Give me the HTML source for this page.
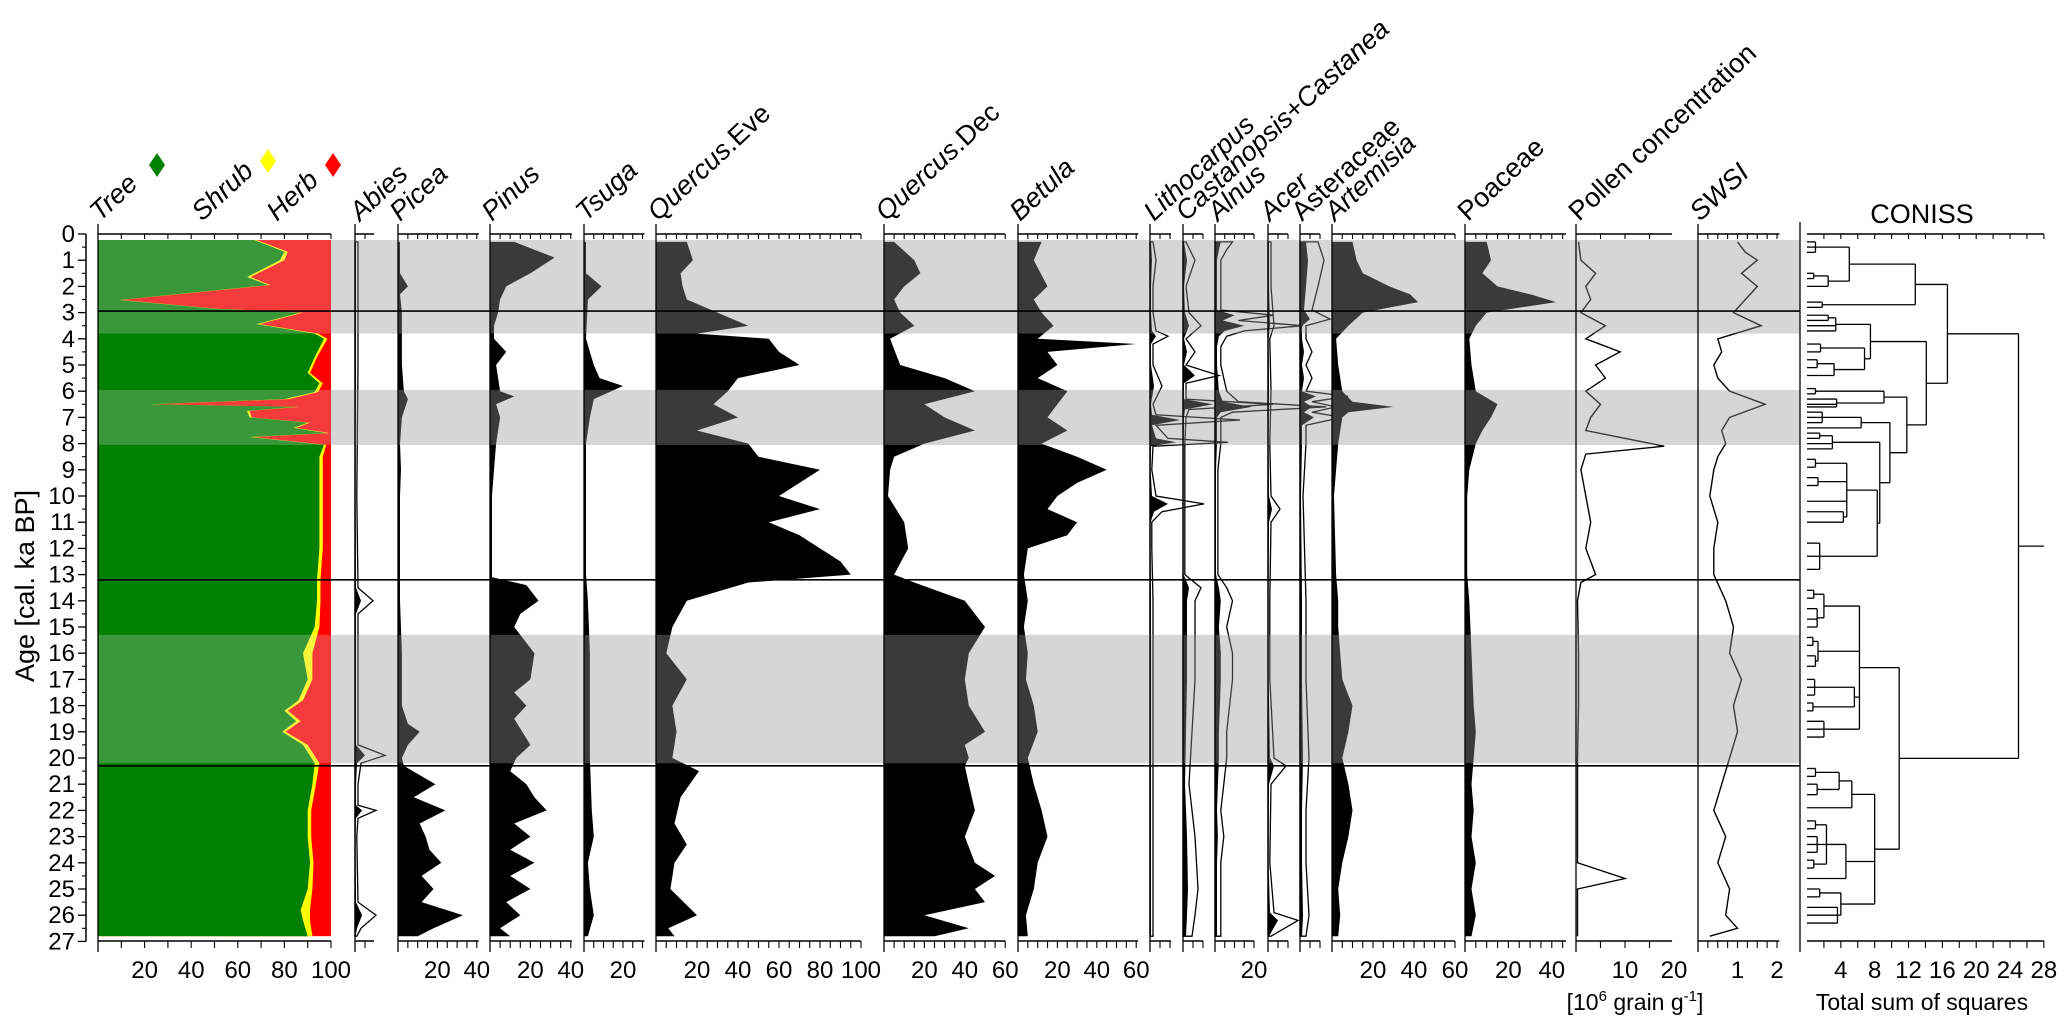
<!DOCTYPE html>
<html><head><meta charset="utf-8"><title>Pollen diagram</title>
<style>
html,body{margin:0;padding:0;background:#fff;}
svg{display:block;font-family:"Liberation Sans",Arial,sans-serif;}
</style></head>
<body>
<svg id="chart" xmlns="http://www.w3.org/2000/svg" width="2067" height="1020" viewBox="0 0 2067 1020"></svg>
<script>
// ---------------- DATA ----------------
const tshAge = [0.23,0.68,1.0,1.64,1.95,2.52,2.85,3.0,3.44,3.8,4.0,4.7,5.3,5.7,6.03,6.3,6.5,6.6,6.75,7.0,7.2,7.4,7.6,7.75,8.05,8.5,10,12,13.2,14,15,16,17,17.8,18.2,18.6,19.0,19.5,20.2,21,22,23,24,25,25.8,26.2,26.8];
const treePct = [67,80,78,64,73,9,50,87,68,93,97,93,90,95,93,80,22,85,64,65,90,84,98,65,97,95,95,95,94,94,93,88,90,86,80,85,79,88,93,92,90,90,91,90,87,88,90];
const shrubPct = [1,1.5,2,1.5,1,1,1,1,1.5,1.5,1.5,1,1,1.5,1.5,2,1.5,1.5,1,1,1,1,1.5,1.5,1,1.5,1.5,1.5,1.5,1.5,2,4,2,2,1.5,2,1.5,2,2,1.5,1.5,1.5,1.5,2,4,3,2];

const abiesAge = [0.3,5,10,13.5,14,14.5,17,19.5,19.9,20.2,21,21.8,22,22.3,23,25.5,26,26.5,26.8];
const abiesVal = [0.5,0.5,0.3,0.5,3,0.5,0.5,0.5,5,1,0.5,0.5,3.5,0.5,0.3,0.5,3.5,1,0.3];

const piceaAge = [0.3,1.5,2.0,2.3,3.0,4,5,6,6.3,7,8,9,10,12,13,14,16,18,18.7,19.0,19.5,20.0,20.3,21.0,21.5,22.0,22.5,23.0,23.5,24.0,24.5,25.0,25.5,26.0,26.5,26.8];
const piceaVal = [1,1,5,1,2,2,2,3,5,2,1,1.5,1,1,1,1,2,2,5,11,5,2,3,19,8,24,11,14,16,22,12,18,12,33,18,10];

const pinusAge = [0.3,0.6,0.9,1.5,2.0,2.5,3,3.5,4,4.5,5,6,6.2,6.5,7,8,9,10,12,13.1,13.4,14,14.5,15,16,17,17.5,18,18.5,19.5,20,20.5,21,21.5,22,22.5,23,23.5,24,24.5,25,25.5,26,26.5,26.8];
const pinusVal = [12,22,32,20,8,5,4,2,2,8,3,5,12,3,5,3,2,1,1,1,18,24,15,12,22,20,12,18,12,20,13,10,18,22,28,12,20,10,22,10,20,8,15,5,10];

const tsugaAge = [0.3,1.5,2,2.5,4,5,5.5,5.8,6.3,7,8,10,13,14,16,18,20,22,23,24,25,26,26.8];
const tsugaVal = [1,1,9,2,1,5,8,20,5,3,1,1,1,2,3,3,3,4,5,2,3,5,2];

const qeveAge = [0.3,1,1.5,2,2.5,3,3.5,3.8,4,4.5,5,5.5,6,6.5,7,7.5,8,8.5,9,9.5,10,10.5,11,11.5,12,12.5,13,13.3,14,15,16,17,18,19,20,20.5,21.5,22.5,23.3,24,25,26,26.5,26.8];
const qeveVal = [15,18,12,13,15,30,45,20,55,60,70,40,35,28,40,20,45,50,80,70,60,80,55,70,80,90,95,45,15,8,5,15,8,10,8,21,12,9,15,9,7,20,6,9];

const qdecAge = [0.3,1,1.5,2,2.5,3,3.5,4,5,5.5,6,6.5,7,7.5,8,8.5,9,10,11,12,13,13.3,14,15,16,17,18,19,19.5,20,20.3,21,22,23,24,24.5,25,25.5,26,26.5,26.8];
const qdecVal = [5,15,18,10,5,8,15,3,8,30,45,20,30,45,20,5,3,2,10,12,5,15,40,50,42,40,42,50,40,42,40,42,45,40,45,55,45,50,20,42,25];

const betulaAge = [0.3,1,2,2.5,3,3.5,4,4.2,4.5,5,5.5,6,6.5,7,7.5,8,8.5,9,9.5,10,10.5,11,11.5,12,13,14,15,16,17,18,19,20,21,22,23,24,25,26,26.8];
const betulaVal = [12,8,15,8,12,18,10,60,15,20,10,25,20,15,25,12,30,45,30,20,15,30,25,5,3,5,3,5,4,8,10,5,8,12,15,10,8,4,5];

const lithoAge = [0.3,1,2,3,3.7,3.9,4.2,5,5.8,6.5,6.9,7.1,7.3,7.8,7.95,8.1,9,10,10.3,10.6,11,12,14,16,18,20,22,24,26,26.8];
const lithoVal = [0.5,1,0.5,0.5,1,3,0.5,0.5,2,0.5,1,15,1,3,13,0.5,0.3,1,9,2,0.3,0.3,0.5,0.5,0.5,0.5,0.5,0.5,0.5,0.5];

const castAge = [0.3,1,2,3,3.5,4,4.5,5,5.4,5.7,6.3,6.5,6.7,7,8,10,13,13.5,14,15,17,19,21,23,25,26,26.8];
const castVal = [0.5,2,0.5,1,3,0.5,2,0.5,6,0.5,0.5,15,1,0.5,0.3,0.3,0.3,3,2,2,2,1.5,1,2,2.5,2,1.5];

const alnusAge = [0.3,0.6,1,2,2.9,3.1,3.3,3.5,3.7,3.9,4.3,5,6,6.4,6.6,6.8,7,8,9,10,11,12,13,13.5,14,15,16,17,18,19,20,21,22,23,24,25,26,26.8];
const alnusVal = [3,2,1,1,1,10,4,15,5,2,1,1,2,4,19,3,1,1,0.5,0.5,0.5,0.5,0.5,2,3,2,3,3,2.5,2,2,1.5,1,1.5,1,1,1,1];

const acerAge = [0.3,2,3.5,4,6,8,10,10.5,11,14,17,20,20.3,21,24,25.9,26.2,26.8];
const acerVal = [0.5,0.5,1,0.3,0.5,0.3,0.5,2,0.5,0.3,0.3,1,3,0.5,0.3,1,5,0.5];

const asterAge = [0.3,1,2,2.9,3.25,3.5,4,4.5,5,5.5,6,6.2,6.4,6.6,6.8,7,7.3,8,10,14,17,20,22,24,26,26.8];
const asterVal = [3,4,3,2,5,1,1,2,1,2,1,8,2,6,2,7,1,1,0.5,1,1,1.5,1,1,1.5,1];

const artemAge = [0.3,1,1.5,2,2.3,2.6,3,3.5,4,5,6,6.4,6.6,6.8,7,8,9,10,13,14,15,16,17,18,19,20,21,22,23,24,25,26,26.8];
const artemVal = [10,12,15,28,38,42,15,8,2,3,5,10,30,8,5,3,2,1,2,3,3,4,5,10,8,5,8,10,8,5,3,4,3];

const poacAge = [0.3,1,1.5,2,2.3,2.6,3,3.5,4,5,6,6.5,7,7.5,8,9,10,13,14,16,18,19,20,21,22,23,24,25,26,26.8];
const poacVal = [10,12,8,15,30,42,10,5,2,3,5,15,12,8,5,2,1,1,2,3,4,5,4,3,4,3,5,3,5,3];

const concAge = [0.3,1,1.5,2,2.5,3,3.5,4,4.5,5,5.5,6,6.5,7,7.5,8.1,8.4,9,10,11,12,13,13.3,14,16,18,20,22,24,24.6,25,26,26.8];
const concVal = [0.5,1,4,2,3,1,6,2,9,4,6,2,5,3,2,18,2,1,2,3,2,4,1,0.3,0.5,0.5,0.3,0.3,0.3,10,0.3,0.3,0.3];

const swsiAge = [0.3,0.7,1,1.5,2,2.5,3,3.5,4,4.5,5,5.5,6,6.5,7,7.5,8,8.5,9,10,11,12,13,14,15,16,17,18,19,20,21,22,23,24,25,26,26.5,26.8];
const swsiVal = [1.0,1.2,1.5,1.1,1.5,1.2,0.9,1.6,0.5,0.6,0.4,0.5,0.8,1.7,0.8,0.6,0.7,0.5,0.4,0.3,0.5,0.4,0.4,0.7,0.9,0.8,1.1,0.9,1.0,0.8,0.6,0.4,0.7,0.5,0.8,0.7,1.0,0.3];

const zoneBands = [[0.23,3.8],[5.95,8.05],[15.3,20.2]];
const zoneLines = [2.94,13.2,20.3];
const ageTicks = [0,1,2,3,4,5,6,7,8,9,10,11,12,13,14,15,16,17,18,19,20,21,22,23,24,25,26,27];

const conissTree = {h:25,c:[
 {h:16.6,c:[
   {h:12.8,c:[
     {h:5.0,c:[{h:1.0,c:[0.3,0.5,0.7]},{h:2.5,c:[{h:0.8,c:[1.5,1.7]},2.0]}]},
     {h:1.8,c:[2.6,2.8]}]},
   {h:14.1,c:[
     {h:7.5,c:[{h:3.4,c:[{h:2.5,c:[3.1,3.3]},3.5,3.7]},{h:6.8,c:[{h:1.6,c:[4.2,4.5]},{h:3.2,c:[{h:1.2,c:[4.8,5.1]},5.4]}]}]},
     {h:11.8,c:[
       {h:9.1,c:[{h:1.0,c:[5.9,6.1]},{h:3.5,c:[6.3,6.5,6.6]}]},
       {h:9.8,c:[
         {h:6.4,c:[{h:1.8,c:[6.8,7.0,7.2]},7.4]},
         {h:8.6,c:[
           {h:3.0,c:[{h:1.5,c:[7.6,7.8]},8.0,8.2]},
           {h:8.3,c:[{h:4.7,c:[{h:1.0,c:[8.6,8.9]},{h:1.3,c:[9.3,9.6]},10.2,{h:4.3,c:[10.6,11.0]}]},{h:1.5,c:[11.8,12.3,12.8]}]}]}]}]}]}]},
 {h:10.9,c:[
   {h:6.2,c:[
     {h:2.0,c:[{h:0.8,c:[13.6,13.9]},{h:1.2,c:[14.3,14.7,15.0]}]},
     {h:1.3,c:[{h:0.7,c:[15.4,15.7]},{h:1.0,c:[16.1,16.5]}]},
     {h:5.6,c:[{h:0.9,c:[17.0,17.3,17.6]},{h:0.7,c:[17.9,18.2]}]},
     {h:2.0,c:[18.6,18.9,19.2]}]},
   {h:8.0,c:[
     {h:5.3,c:[{h:3.8,c:[{h:1.0,c:[20.4,20.7]},{h:1.2,c:[21.0,21.4]}]},21.9]},
     {h:4.6,c:[{h:2.3,c:[{h:1.0,c:[22.4,22.7]},{h:1.2,c:[23.0,23.3,23.6]},{h:0.8,c:[23.9,24.2]}]},24.6]},
     {h:4.0,c:[{h:1.5,c:[25.0,25.3]},{h:3.6,c:[25.7,26.0,26.3]}]}]}]}]};

// ---------------- LAYOUT ----------------
const NS = "http://www.w3.org/2000/svg";
const svg = document.getElementById('chart');
function yA(a){ return 234 + a*26.2; }
function mk(tag, attrs, parent){
  const e = document.createElementNS(NS, tag);
  for (const k in attrs) e.setAttribute(k, attrs[k]);
  (parent||svg).appendChild(e);
  return e;
}
const gBack = mk('g',{});  
const gData = mk('g',{});  
const gOver = mk('g',{});  
const gAxes = mk('g',{});  

zoneBands.forEach(function(b){
  const r = mk('rect',{x:331,y:yA(b[0]),width:1800-331,height:yA(b[1])-yA(b[0]),fill:'#d6d6d6'},gBack);
  
  
});

(function(){
  const x0=98, s=2.33;
  const top=yA(tshAge[0]), bot=yA(tshAge[tshAge.length-1]);
  const herb = mk('rect',{x:x0,y:top,width:100*s,height:bot-top,fill:'#ff0000'},gData);
  
  
  let d='M'+x0+','+top;
  tshAge.forEach(function(a,i){ d+=' L'+(x0+(treePct[i]+shrubPct[i])*s).toFixed(1)+','+yA(a).toFixed(1); });
  d+=' L'+x0+','+bot+' Z';
  const sh = mk('path',{d:d,fill:'#ffff00'},gData);
  
  
  d='M'+x0+','+top;
  tshAge.forEach(function(a,i){ d+=' L'+(x0+treePct[i]*s).toFixed(1)+','+yA(a).toFixed(1); });
  d+=' L'+x0+','+bot+' Z';
  const tr = mk('path',{d:d,fill:'#008000'},gData);
  
  
})();

function areaD(x0,s,ages,vals,mult){
  let d='M'+x0+','+yA(ages[0]).toFixed(1);
  ages.forEach(function(a,i){ d+=' L'+(x0+vals[i]*s*mult).toFixed(1)+','+yA(a).toFixed(1); });
  d+=' L'+x0+','+yA(ages[ages.length-1]).toFixed(1)+' Z';
  return d;
}
function lineD(x0,s,ages,vals){
  let d='';
  ages.forEach(function(a,i){ d+=(i?' L':'M')+(x0+vals[i]*s).toFixed(1)+','+yA(a).toFixed(1); });
  return d;
}

const panels = [
 {name:'abies', x0:355, s:2.0, max:9.5, minor:5, labels:[], ages:abiesAge, vals:abiesVal, ex:3, type:'area'},
 {name:'picea', x0:398, s:1.97, max:41, minor:5, labels:[20,40], ages:piceaAge, vals:piceaVal, type:'area'},
 {name:'pinus', x0:490, s:2.02, max:40.5, minor:5, labels:[20,40], ages:pinusAge, vals:pinusVal, type:'area'},
 {name:'tsuga', x0:584, s:1.95, max:31, minor:5, labels:[20], ages:tsugaAge, vals:tsugaVal, type:'area'},
 {name:'quercus-eve', x0:656, s:2.05, max:100, minor:5, labels:[20,40,60,80,100], ages:qeveAge, vals:qeveVal, type:'area'},
 {name:'quercus-dec', x0:884, s:2.02, max:60, minor:5, labels:[20,40,60], ages:qdecAge, vals:qdecVal, type:'area'},
 {name:'betula', x0:1018, s:1.97, max:61, minor:5, labels:[20,40,60], ages:betulaAge, vals:betulaVal, type:'area'},
 {name:'lithocarpus', x0:1150, s:2.0, max:10.5, minor:5, labels:[], ages:lithoAge, vals:lithoVal, ex:3, type:'area'},
 {name:'castanopsis', x0:1183, s:2.0, max:10, minor:5, labels:[], ages:castAge, vals:castVal, ex:3, type:'area'},
 {name:'alnus', x0:1215, s:1.95, max:20, minor:5, labels:[20], ages:alnusAge, vals:alnusVal, ex:3, type:'area'},
 {name:'acer', x0:1268, s:2.0, max:10, minor:5, labels:[], ages:acerAge, vals:acerVal, ex:3, type:'area'},
 {name:'asteraceae', x0:1300, s:2.0, max:10, minor:5, labels:[], ages:asterAge, vals:asterVal, ex:3, type:'area'},
 {name:'artemisia', x0:1332, s:2.05, max:60, minor:5, labels:[20,40,60], ages:artemAge, vals:artemVal, type:'area'},
 {name:'poaceae', x0:1465, s:2.17, max:46.5, minor:5, labels:[20,40], ages:poacAge, vals:poacVal, type:'area'},
 {name:'pollen-concentration', x0:1576, s:4.9, max:19.6, minor:5, labels:[10,20], ages:concAge, vals:concVal, type:'line'},
 {name:'swsi', x0:1698, s:39.5, max:2.06, minor:0.25, labels:[1,2], ages:swsiAge, vals:swsiVal, type:'line'}
];

panels.forEach(function(p){
  if (p.type==='area'){
    if (p.ex){
      const e = mk('path',{d:areaD(p.x0,p.s,p.ages,p.vals,p.ex),fill:'none',stroke:'#000','stroke-width':1.3},gData);
      
      
    }
    const a = mk('path',{d:areaD(p.x0,p.s,p.ages,p.vals,1),fill:'#000'},gData);
    
    
  } else {
    const l = mk('path',{d:lineD(p.x0,p.s,p.ages,p.vals),fill:'none',stroke:'#000','stroke-width':1.4},gData);
    
    
  }
});

const cx0=1807, cs=8.46;
function drawNode(n){
  if (typeof n === 'number') return {y:yA(n), x:cx0};
  const kids = n.c.map(drawNode);
  const xh = cx0 + n.h*cs;
  kids.forEach(function(k){
    const hl = mk('line',{x1:k.x,y1:k.y,x2:xh,y2:k.y,stroke:'#000','stroke-width':1.3},gData);
    
    
  });
  const ys = kids.map(function(k){return k.y;});
  const y1=Math.min.apply(null,ys), y2=Math.max.apply(null,ys);
  const vl = mk('line',{x1:xh,y1:y1,x2:xh,y2:y2,stroke:'#000','stroke-width':1.3},gData);
  
  
  return {y:(y1+y2)/2, x:xh};
}
const rootPos = drawNode(conissTree);
const rootStem = mk('line',{x1:rootPos.x,y1:rootPos.y,x2:cx0+28*cs,y2:rootPos.y,stroke:'#000','stroke-width':1.3},gData);



zoneBands.forEach(function(b){
  const r = mk('rect',{x:98,y:yA(b[0]),width:1800-98,height:yA(b[1])-yA(b[0]),fill:'#d6d6d6','fill-opacity':0.27},gOver);
  
  
});
zoneLines.forEach(function(a){
  const l = mk('line',{x1:98,y1:yA(a),x2:1800,y2:yA(a),stroke:'#000','stroke-width':1.6},gOver);
  
  
});

function txt(x,y,str,attrs,parent){
  const t = mk('text',Object.assign({x:x,y:y,'font-size':24,fill:'#000'},attrs||{}),parent||gAxes);
  t.textContent = str;
  return t;
}
const yLine = mk('line',{x1:86,y1:yA(0),x2:86,y2:yA(27),stroke:'#000','stroke-width':1.5},gAxes);


ageTicks.forEach(function(a){
  const t = mk('line',{x1:78,y1:yA(a),x2:86,y2:yA(a),stroke:'#000','stroke-width':1.3},gAxes);
  
  
  if (a<27){
    const m = mk('line',{x1:82,y1:yA(a+0.5),x2:86,y2:yA(a+0.5),stroke:'#000','stroke-width':1.1},gAxes);
    
    
  }
  const lb = txt(75,yA(a)+8,String(a),{'text-anchor':'end'});
  
  
});
const yTitle = txt(0,0,'Age [cal. ka BP]',{'font-size':27,'text-anchor':'middle',transform:'translate(34,586) rotate(-90)'});



function panelAxes(name,x0,s,max,minor,labels){
  const x1 = x0+max*s;
  const v = mk('line',{x1:x0,y1:224,x2:x0,y2:952,stroke:'#000','stroke-width':1.3},gAxes);
  
  
  [234,941].forEach(function(yy){
    const h = mk('line',{x1:x0,y1:yy,x2:x1,y2:yy,stroke:'#000','stroke-width':1.4},gAxes);
    
    
    for (let t=minor; t<=max+1e-6; t+=minor){
      const tk = mk('line',{x1:x0+t*s,y1:yy,x2:x0+t*s,y2:yy+(yy===234?5:7),stroke:'#000','stroke-width':1.1},gAxes);
      
      
    }
  });
  labels.forEach(function(l){
    const lb = txt(x0+l*s,978,String(l),{'text-anchor':'middle'});
    
    
  });
}
panelAxes('tsh',98,2.33,100,10,[20,40,60,80,100]);
panels.forEach(function(p){ panelAxes(p.name,p.x0,p.s,p.max,p.minor,p.labels); });
(function(){
  const v = mk('line',{x1:1800,y1:222,x2:1800,y2:952,stroke:'#000','stroke-width':1.3},gAxes);
  
  
  [234,941].forEach(function(yy){
    const h = mk('line',{x1:cx0,y1:yy,x2:cx0+28*cs,y2:yy,stroke:'#000','stroke-width':1.4},gAxes);
    
    
    for (let t=2;t<=28;t+=2){
      const tk = mk('line',{x1:cx0+t*cs,y1:yy,x2:cx0+t*cs,y2:yy+(yy===234?5:7),stroke:'#000','stroke-width':1.1},gAxes);
      
      
    }
  });
  [4,8,12,16,20,24,28].forEach(function(l){
    const lb = txt(cx0+l*cs,978,String(l),{'text-anchor':'middle'});
    
    
  });
})();

const unitLbl = mk('text',{x:1635,y:1010,'font-size':23,'text-anchor':'middle'},gAxes);


unitLbl.innerHTML = '[10<tspan dy="-9" font-size="15">6</tspan><tspan dy="9"> grain g</tspan><tspan dy="-9" font-size="15">-1</tspan><tspan dy="9">]</tspan>';
const tss = txt(1922,1010,'Total sum of squares',{'text-anchor':'middle','font-size':23});


const cTitle = txt(1922,223,'CONISS',{'text-anchor':'middle','font-size':27});



const headers = [
 [98,'<tspan font-style="italic">Tree</tspan>','tree-header'],
 [200,'<tspan font-style="italic">Shrub</tspan>','shrub-header'],
 [275,'<tspan font-style="italic">Herb</tspan>','herb-header'],
 [358,'<tspan font-style="italic">Abies</tspan>','abies-header'],
 [398,'<tspan font-style="italic">Picea</tspan>','picea-header'],
 [490,'<tspan font-style="italic">Pinus</tspan>','pinus-header'],
 [584,'<tspan font-style="italic">Tsuga</tspan>','tsuga-header'],
 [656,'<tspan font-style="italic">Quercus</tspan>.Eve','quercus-eve-header'],
 [884,'<tspan font-style="italic">Quercus</tspan>.Dec','quercus-dec-header'],
 [1018,'<tspan font-style="italic">Betula</tspan>','betula-header'],
 [1152,'<tspan font-style="italic">Lithocarpus</tspan>','lithocarpus-header'],
 [1184,'<tspan font-style="italic">Castanopsis</tspan>+<tspan font-style="italic">Castanea</tspan>','castanopsis-header'],
 [1216,'<tspan font-style="italic">Alnus</tspan>','alnus-header'],
 [1268,'<tspan font-style="italic">Acer</tspan>','acer-header'],
 [1300,'Asteraceae','asteraceae-header'],
 [1333,'<tspan font-style="italic">Artemisia</tspan>','artemisia-header'],
 [1466,'Poaceae','poaceae-header'],
 [1577,'Pollen concentration','concentration-header'],
 [1698,'<tspan font-style="italic">SWSI</tspan>','swsi-header']
];
headers.forEach(function(h){
  const t = mk('text',{'font-size':27,transform:'translate('+(h[0]+2)+',222) rotate(-43)'},gAxes);
  
  
  t.innerHTML = h[1];
});
[[157,165,'#008000','tree-legend-marker'],[268,161,'#ffff00','shrub-legend-marker'],[333,165,'#ff0000','herb-legend-marker']].forEach(function(d){
  const p = mk('path',{d:'M'+d[0]+','+(d[1]-12)+' L'+(d[0]+8)+','+d[1]+' L'+d[0]+','+(d[1]+12)+' L'+(d[0]-8)+','+d[1]+' Z',fill:d[2]},gAxes);
  
  
});
</script>
</body></html>
